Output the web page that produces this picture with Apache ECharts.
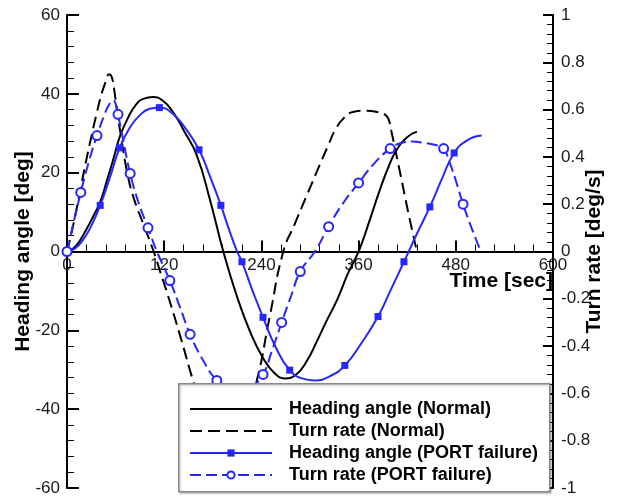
<!DOCTYPE html>
<html>
<head>
<meta charset="utf-8">
<script src="https://cdn.jsdelivr.net/npm/echarts@6/dist/echarts.min.js"></script>
<style>
  html, body { margin: 0; padding: 0; background: #ffffff; }
  #chart { width: 618px; height: 500px; }
</style>
</head>
<body>
<div id="chart"></div>
<script>
// Series names
const nameHeadingNormal = 'Heading angle (Normal)';
const nameRateNormal = 'Turn rate (Normal)';
const nameHeadingPort = 'Heading angle (PORT failure)';
const nameRatePort = 'Turn rate (PORT failure)';

// Heading angle [deg] vs time [sec], normal operation
const headingNormal = [
  [0,0],[8,0.8],[16,2.8],[25,6],[33,9.2],[41,12.6],[50,18.5],[58,24],[65,29],[75,33.8],
  [85,37.2],[95,38.8],[106,39.2],[118,38.3],[130,35.6],[145,30.4],[160,24.5],[176,13.5],
  [193,0],[210,-11.5],[226,-20.3],[242,-27],[256,-30.8],[269,-32.2],[283,-31.2],[296,-27.8],
  [308,-23],[320,-17.8],[334,-12],[347,-5.5],[360,0],[373,7.5],[386,15.5],[397,21.5],
  [407,25.8],[420,29],[432,30.4]
];

// Turn rate [deg/s] vs time [sec], normal operation
const rateNormal = [
  [0,0],[5,0.07],[10,0.15],[17,0.27],[24,0.39],[31,0.5],[37,0.59],[43,0.67],[48,0.72],
  [52,0.75],[55,0.74],[58,0.69],[62,0.59],[67,0.48],[74,0.34],[82,0.23],[95,0.11],[107,0],
  [115,-0.085],[125,-0.19],[140,-0.36],[156,-0.55],[166,-0.65],[178,-0.7],[195,-0.71],
  [212,-0.7],[222,-0.66],[234,-0.55],[250,-0.28],[267,0],[281,0.115],[296,0.237],[310,0.35],
  [322,0.445],[332,0.52],[342,0.565],[353,0.59],[370,0.595],[385,0.588],[393,0.578],
  [397,0.56],[401,0.5],[411,0.337],[421,0.17],[432,0]
];

// Heading angle [deg] vs time [sec], PORT failure
const headingPort = [
  [0,0],[10,0.8],[20,3],[30,6.5],[41,11.7],[53,18.8],[65,26.3],[78,31.6],[90,34.6],
  [102,36.2],[114,36.5],[128,35.4],[145,31.6],[163,25.8],[177,18.8],[190,11.7],[200,5.6],
  [210,0],[216,-2.6],[229,-9.9],[242,-16.7],[258,-24.4],[275,-30.1],[290,-32.2],[306,-32.7],
  [325,-31.6],[343,-28.9],[363,-23.4],[384,-16.5],[400,-9.6],[416,-2.6],[432,4.5],
  [448,11.3],[463,18.5],[478,25],[494,28.2],[512,29.4]
];
const headingPortMarkers = [0,41,65,114,163,190,216,242,275,343,384,416,448,478];

// Turn rate [deg/s] vs time [sec], PORT failure
const ratePort = [
  [0,0],[8,0.12],[17,0.25],[27,0.38],[37,0.49],[47,0.585],[53,0.627],[57,0.64],[60,0.625],
  [63,0.58],[70,0.46],[78,0.33],[88,0.21],[100,0.1],[111,0],[127,-0.123],[140,-0.24],
  [152,-0.35],[168,-0.46],[185,-0.545],[200,-0.575],[215,-0.58],[230,-0.565],[242,-0.52],
  [253,-0.42],[265,-0.3],[277,-0.185],[288,-0.085],[306,0],[323,0.105],[340,0.2],[360,0.29],
  [380,0.375],[399,0.435],[412,0.458],[425,0.465],[440,0.46],[455,0.45],[465,0.435],
  [472,0.38],[480,0.3],[489,0.2],[500,0.095],[511,0]
];
const ratePortMarkers = [0,17,37,63,78,100,127,152,185,242,265,288,323,360,399,465,489];

// Axis ranges
const timeAxis = { min: 0, max: 600, step: 120 };
const headingAxis = { min: -60, max: 60, step: 20 };
const rateAxis = { min: -1, max: 1, step: 0.2 };

const BLUE = '#2626ff';
const textFont = 'Liberation Sans, Arial, Helvetica, sans-serif';

// Show a symbol only at the listed times
function markAt(points, times) {
  return points.map(p => times.indexOf(p[0]) >= 0 ? { value: p } : { value: p, symbol: 'none' });
}

function valueAxis(range, extra) {
  return Object.assign({
    type: 'value',
    min: range.min,
    max: range.max,
    interval: range.step,
    splitLine: { show: false },
    axisLine: { show: true, onZero: false, lineStyle: { color: '#000', width: 2 } },
    axisTick: { show: true, inside: true, length: 12, lineStyle: { color: '#000', width: 2 } },
    minorTick: { show: true, splitNumber: 5, length: 7, lineStyle: { color: '#000', width: 1 } },
    axisLabel: { color: '#1a1a1a', fontSize: 17, fontFamily: textFont, margin: 7 },
    nameLocation: 'middle',
    nameRotate: 90,
    nameMoveOverlap: false,
    nameTextStyle: { color: '#000', fontSize: 21, fontWeight: 'bold', fontFamily: textFont }
  }, extra);
}

const chart = echarts.init(document.getElementById('chart'), null, { renderer: 'canvas' });

const lineSmooth = 0.5;

chart.setOption({
  animation: false,
  backgroundColor: '#ffffff',
  grid: { left: 67, right: 65, top: 15, bottom: 12, containLabel: false, outerBoundsMode: 'none' },
  xAxis: {
    type: 'value',
    position: 'bottom',
    min: timeAxis.min,
    max: timeAxis.max,
    interval: timeAxis.step,
    splitLine: { show: false },
    axisLine: { show: true, onZero: false, lineStyle: { color: '#000', width: 2 } },
    axisTick: { show: true, inside: true, length: 11, lineStyle: { color: '#000', width: 2 } },
    minorTick: { show: true, splitNumber: 5, length: 7, lineStyle: { color: '#000', width: 1 } },
    axisLabel: { color: '#1a1a1a', fontSize: 17, fontFamily: textFont, margin: 5 },
    name: 'Time [sec]',
    nameLocation: 'end',
    nameGap: 0,
    nameMoveOverlap: false,
    nameTextStyle: {
      color: '#000', fontSize: 21, fontWeight: 'bold', fontFamily: textFont,
      align: 'right', verticalAlign: 'top', padding: [19, 0, 0, 0]
    }
  },
  yAxis: [
    valueAxis(headingAxis, { position: 'left', name: 'Heading angle [deg]', nameGap: 33 }),
    valueAxis(rateAxis, {
      position: 'right', name: 'Turn rate [deg/s]', nameGap: 31,
      axisTick: { show: true, inside: true, length: 10, lineStyle: { color: '#000', width: 2 } },
      minorTick: { show: true, splitNumber: 5, length: 6, lineStyle: { color: '#000', width: 1 } },
      axisLabel: { color: '#1a1a1a', fontSize: 17, fontFamily: textFont, margin: 8 }
    })
  ],
  legend: {
    orient: 'vertical',
    left: 178,
    top: 383,
    padding: [17, 0, 0, 11],
    itemWidth: 82,
    itemHeight: 9,
    itemGap: 4,
    selectedMode: false,
    z: 10,
    textStyle: {
      color: '#000', fontSize: 18, fontWeight: 'bold', fontFamily: textFont,
      padding: [0, 0, 0, 12]
    },
    data: [
      { name: nameHeadingNormal, itemStyle: { opacity: 0 } },
      { name: nameRateNormal, itemStyle: { opacity: 0 } },
      { name: nameHeadingPort },
      { name: nameRatePort }
    ]
  },
  graphic: [{
    type: 'rect',
    left: 178,
    top: 383,
    z: 5,
    shape: { width: 371, height: 108 },
    style: {
      fill: '#ffffff', stroke: '#8a8a8a', lineWidth: 1.5,
      shadowBlur: 2, shadowColor: 'rgba(0,0,0,0.25)', shadowOffsetX: 1, shadowOffsetY: 1
    }
  }],
  series: [
    {
      name: nameHeadingNormal,
      type: 'line',
      yAxisIndex: 0,
      data: headingNormal,
      symbol: 'none',
      smooth: lineSmooth,
      lineStyle: { color: '#000', width: 2 },
      itemStyle: { color: '#000' }
    },
    {
      name: nameRateNormal,
      type: 'line',
      yAxisIndex: 1,
      data: rateNormal,
      symbol: 'none',
      smooth: lineSmooth,
      lineStyle: { color: '#000', width: 2, type: [12, 6] },
      itemStyle: { color: '#000' }
    },
    {
      name: nameHeadingPort,
      type: 'line',
      yAxisIndex: 0,
      data: markAt(headingPort, headingPortMarkers),
      symbol: 'rect',
      symbolSize: 7,
      showSymbol: true,
      smooth: lineSmooth,
      lineStyle: { color: BLUE, width: 2 },
      itemStyle: { color: BLUE }
    },
    {
      name: nameRatePort,
      type: 'line',
      yAxisIndex: 1,
      data: markAt(ratePort, ratePortMarkers),
      symbol: 'emptyCircle',
      symbolSize: 9,
      showSymbol: true,
      smooth: lineSmooth,
      lineStyle: { color: BLUE, width: 2, type: [11, 5] },
      itemStyle: { color: BLUE, borderColor: BLUE, borderWidth: 1.2 }
    }
  ]
});

// Put the time axis on the zero line of the heading axis
// (repeated so the offset settles once the layout stops changing)
for (let i = 0; i < 3; i++) {
  const zeroY = chart.convertToPixel({ yAxisIndex: 0 }, 0);
  const topY = chart.convertToPixel({ yAxisIndex: 0 }, headingAxis.max);
  const bottomY = chart.convertToPixel({ yAxisIndex: 0 }, headingAxis.min);
  const current = chart.getOption().xAxis[0].offset || 0;
  const axisY = bottomY + current;
  if (Math.abs(axisY - zeroY) < 0.25) break;
  chart.setOption({ xAxis: { offset: zeroY - bottomY } });
}
</script>
</body>
</html>
